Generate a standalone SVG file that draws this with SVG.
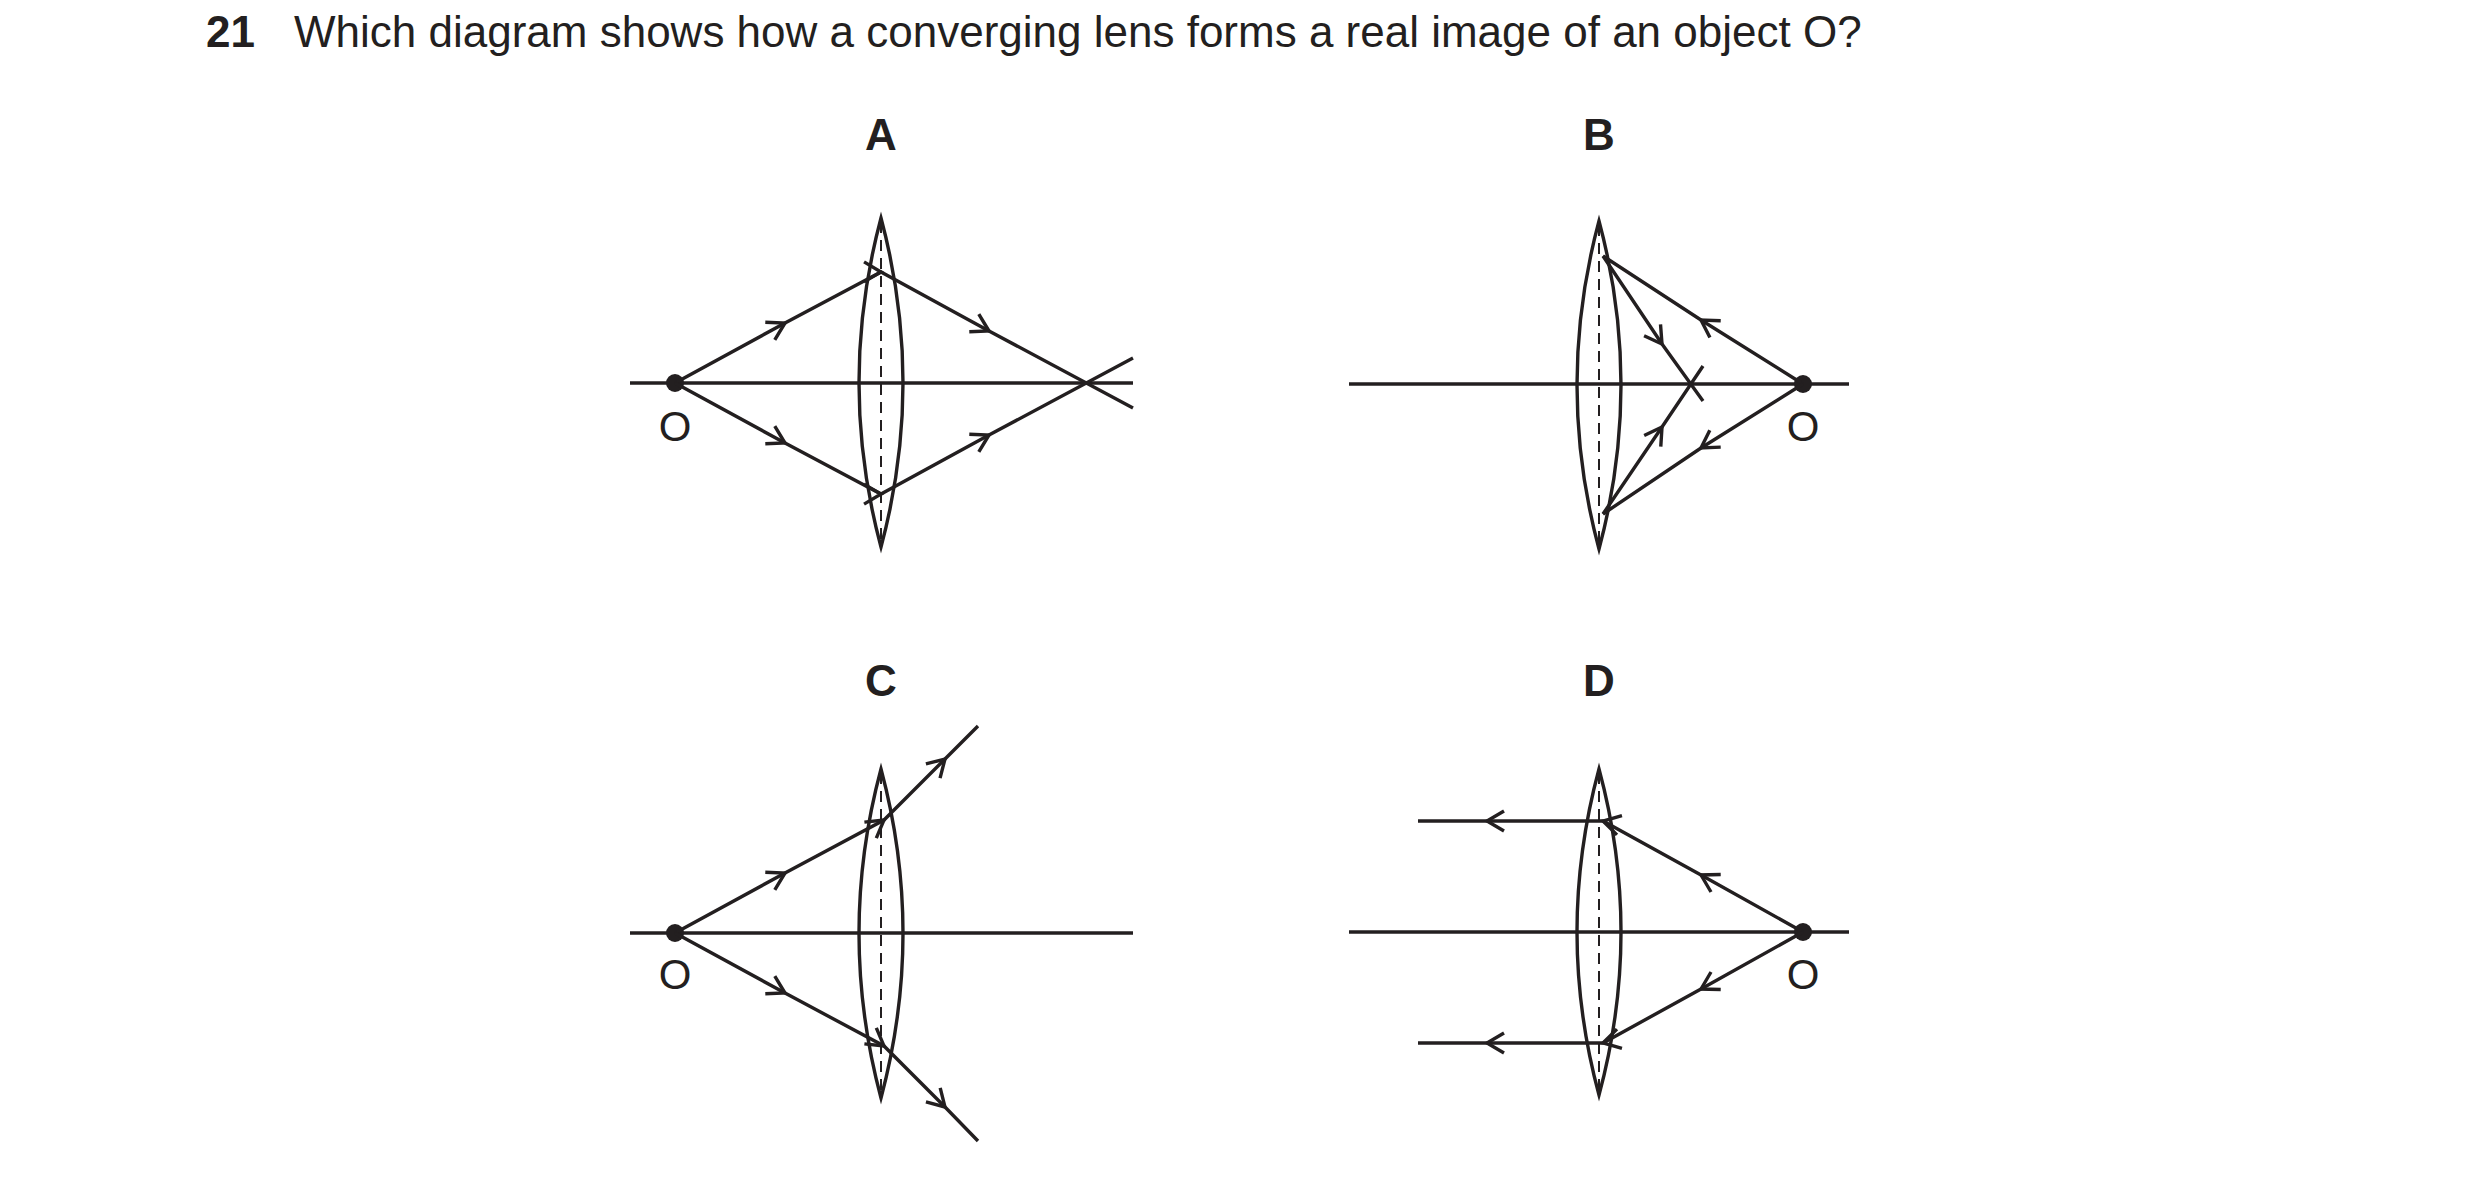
<svg xmlns="http://www.w3.org/2000/svg" width="2480" height="1181" viewBox="0 0 2480 1181">
<style>
.l{fill:none;stroke:#231f20;stroke-width:3.4;stroke-linejoin:miter}
.d{fill:none;stroke:#231f20;stroke-width:2;stroke-dasharray:11 7}
.r{fill:none;stroke:#231f20;stroke-width:3.4;marker-mid:url(#ah)}
.t{font-family:"Liberation Sans",Arial,sans-serif;fill:#231f20}
.h{font-size:44px;font-weight:bold;text-anchor:middle}
.o{font-size:42px;text-anchor:middle}
</style>
<defs>
<marker id="ah" viewBox="-20 -12 24 24" markerWidth="24" markerHeight="24" refX="0" refY="0" orient="auto" markerUnits="userSpaceOnUse">
<path d="M-17,-10 L0,0 L-17,10" fill="none" stroke="#231f20" stroke-width="3.4"/>
</marker>
</defs>
<rect width="2480" height="1181" fill="#fff"/>
<text class="t" x="206" y="47" font-size="44" font-weight="bold">21</text>
<text class="t" x="294" y="47" font-size="44">Which diagram shows how a converging lens forms a real image of an object O?</text>

<g id="A">
<text class="t h" x="881" y="150">A</text>
<path class="l" d="M881,218 Q837,383 881,547 Q925,383 881,218Z"/>
<line class="d" x1="881" y1="222" x2="881" y2="543"/>
<line class="l" x1="630" y1="383" x2="1133" y2="383"/>
<circle cx="675" cy="383" r="9" fill="#231f20"/>
<text class="t o" x="675" y="441">O</text>
</g>
<g id="B">
<text class="t h" x="1599" y="150">B</text>
<path class="l" d="M1599,221 Q1555,385 1599,549 Q1643,385 1599,221Z"/>
<line class="d" x1="1599" y1="225" x2="1599" y2="545"/>
<line class="l" x1="1349" y1="384" x2="1849" y2="384"/>
<circle cx="1803" cy="384" r="9" fill="#231f20"/>
<text class="t o" x="1803" y="441">O</text>
</g>
<g id="C">
<text class="t h" x="881" y="696">C</text>
<path class="l" d="M881,769 Q837,933 881,1098 Q925,933 881,769Z"/>
<line class="d" x1="881" y1="773" x2="881" y2="1094"/>
<line class="l" x1="630" y1="933" x2="1133" y2="933"/>
<circle cx="675" cy="933" r="9" fill="#231f20"/>
<text class="t o" x="675" y="989">O</text>
</g>
<g id="D">
<text class="t h" x="1599" y="696">D</text>
<path class="l" d="M1599,769 Q1555,932 1599,1095 Q1643,932 1599,769Z"/>
<line class="d" x1="1599" y1="773" x2="1599" y2="1091"/>
<line class="l" x1="1349" y1="932" x2="1849" y2="932"/>
<circle cx="1803" cy="932" r="9" fill="#231f20"/>
<text class="t o" x="1803" y="989">O</text>
</g>

<g id="connectors">
<!-- A -->
<polyline class="r" points="675,383 785,323 881,272 989,331 1133,408"/>
<polyline class="r" points="675,383 785,443 881,494 989,435 1133,358"/>
<!-- B -->
<polyline class="r" points="1803,384 1701,320 1603,256"/>
<polyline class="r" points="1603,256 1662,344 1703,401"/>
<polyline class="r" points="1803,384 1701,448 1603,514"/>
<polyline class="r" points="1603,514 1662,427 1703,366"/>
<!-- C -->
<polyline class="r" points="675,933 785,873 884,820 945,759 978,726"/>
<polyline class="r" points="675,933 785,993 884,1046 945,1107 978,1141"/>
<!-- D -->
<polyline class="r" points="1803,932 1701,875 1603,821 1487,821 1418,821"/>
<polyline class="r" points="1803,932 1701,989 1603,1043 1487,1043 1418,1043"/>
</g>
</svg>
